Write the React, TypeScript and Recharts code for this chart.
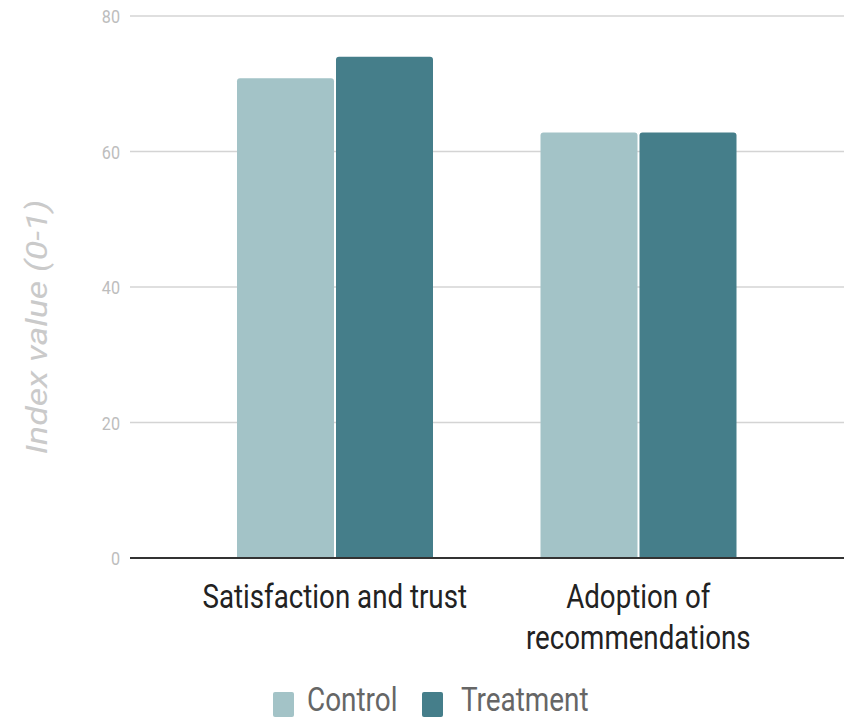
import React from "react";
import { BarChart, Bar, XAxis, YAxis, CartesianGrid, Legend } from "recharts";

const categories = ["Satisfaction and trust", "Adoption of recommendations"];
const categoryLines = [["Satisfaction and trust"], ["Adoption of", "recommendations"]];
const controlValues = [70.8, 62.8];
const treatmentValues = [74.0, 62.8];
const yTicks = [0, 20, 40, 60, 80];
const seriesNames = ["Control", "Treatment"];
const seriesColors = ["#a3c3c7", "#457e8a"];

const data = categories.map((c, i) => ({
  category: c,
  Control: controlValues[i],
  Treatment: treatmentValues[i],
}));

const XTick = (props: any) => {
  const { x, y, payload } = props;
  const idx = categories.indexOf(payload.value);
  const lines = idx >= 0 ? categoryLines[idx] : [payload.value];
  return (
    <g transform={`translate(${x},${y})`}>
      <text
        transform="scale(0.815,1)"
        textAnchor="middle"
        fill="#222"
        fontFamily="Roboto"
        fontSize={34}
      >
        {lines.map((l: string, i: number) => (
          <tspan key={i} x={0} y={42 + i * 41}>
            {l}
          </tspan>
        ))}
      </text>
    </g>
  );
};

const YTick = (props: any) => {
  const { x, y, payload } = props;
  return (
    <g transform={`translate(${x + 6},${y})`}>
      <text
        transform="scale(0.85,1)"
        textAnchor="end"
        dy={7}
        fill="#bdbdbd"
        fontFamily="Roboto"
        fontSize={19}
      >
        {payload.value}
      </text>
    </g>
  );
};

const YLabel = () => {
  const cy = 327;
  const cx = 37;
  return (
    <text
      x={0}
      y={0}
      transform={`translate(${cx},${cy}) rotate(-90) scale(1.19,1)`}
      textAnchor="middle"
      dominantBaseline="central"
      fill="#cacaca"
      fontFamily="Roboto"
      fontStyle="italic"
      fontSize={30}
    >
      Index value (0-1)
    </text>
  );
};

const renderLegend = () => (
  <div
    style={{
      height: 40,
      display: "flex",
      justifyContent: "flex-start",
      alignItems: "flex-start",
      fontFamily: "Roboto",
      paddingLeft: 272.7,
      boxSizing: "border-box",
    }}
  >
    {seriesNames.map((n, i) => (
      <div key={n} style={{ display: "flex", alignItems: "flex-start" }}>
        <div
          style={{
            width: 21,
            height: 25,
            marginTop: 13,
            background: seriesColors[i],
            borderRadius: 2,
            marginRight: i === 0 ? 13 : 18,
          }}
        />
        <span
          style={{
            fontSize: 34,
            color: "#666",
            display: "inline-block",
            transform: "scaleX(0.82)",
            transformOrigin: "left center",
            width: i === 0 ? 115 : 130,
            lineHeight: "30px",
            height: 30,
            marginTop: 5,
            whiteSpace: "nowrap",
          }}
        >
          {n}
        </span>
      </div>
    ))}
  </div>
);

export default function App() {
  return (
    <div style={{ position: "absolute", left: 0, top: 0, width: 844, height: 719, background: "#fff", overflow: "hidden" }}>
      <BarChart
        width={844}
        height={719}
        data={data}
        margin={{ top: 16, right: 0, bottom: 0, left: 0 }}
        barSize={97}
        barGap={2}
      >
        <CartesianGrid vertical={false} stroke="#d4d4d4" strokeWidth={1.5} />
        <XAxis
          dataKey="category"
          height={121}
          tickLine={false}
          axisLine={{ stroke: "#333", strokeWidth: 2 }}
          padding={{ left: 53, right: 54 }}
          tick={<XTick />}
          interval={0}
        />
        <YAxis
          width={130}
          domain={[0, 80]}
          ticks={yTicks}
          tickLine={false}
          axisLine={false}
          tick={<YTick />}
          tickMargin={10}
          label={<YLabel />}
        />
        <Legend verticalAlign="bottom" content={renderLegend} wrapperStyle={{ height: 40 }} />
        <Bar dataKey="Control" fill={seriesColors[0]} radius={[3, 3, 0, 0]} isAnimationActive={false} />
        <Bar dataKey="Treatment" fill={seriesColors[1]} radius={[3, 3, 0, 0]} isAnimationActive={false} />
      </BarChart>
    </div>
  );
}
